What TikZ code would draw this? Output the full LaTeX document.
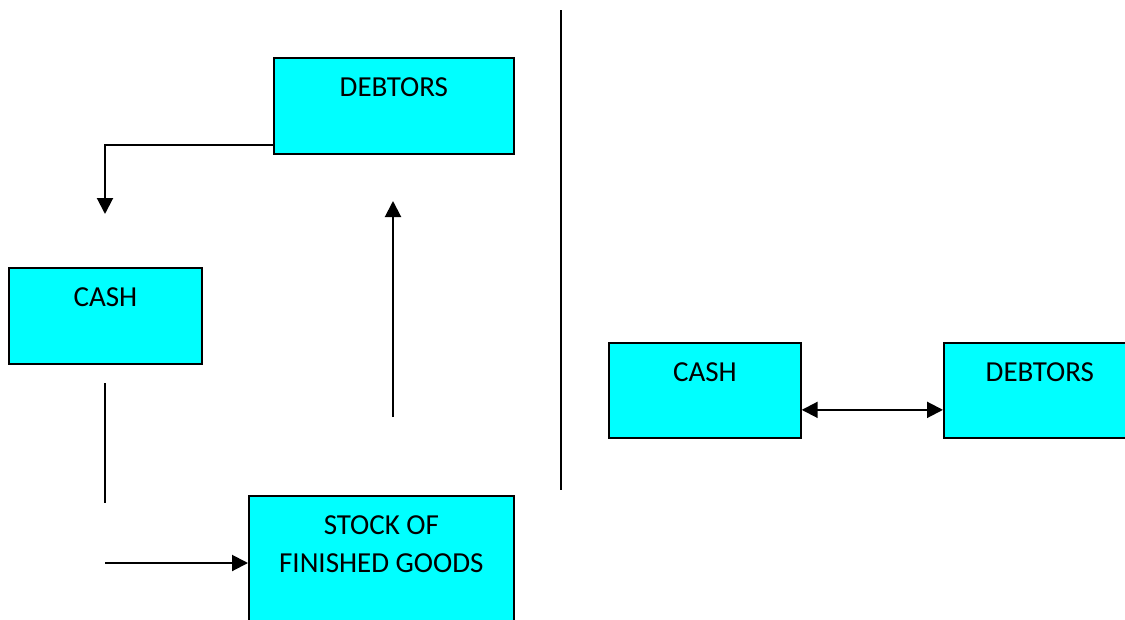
\documentclass[tikz,border=0pt]{standalone}
\usepackage{fontspec}
\setmainfont{Carlito}
\usepackage{xcolor}
\usetikzlibrary{arrows.meta}
\definecolor{boxcyan}{HTML}{00FFFF}

\begin{document}
\begin{tikzpicture}[
  x=0.02cm,
  y=-0.02cm,
  account/.style={
    draw,
    fill=boxcyan,
    line width=1pt,
    anchor=north west,
    minimum height=1.92cm,
    inner sep=0pt,
    label={[account text]north:#1}
  },
  account text/.style={
    anchor=north,
    yshift=-0.40cm,
    inner sep=0pt,
    align=center,
    font=\fontsize{16.5}{21.7}\selectfont
  },
  arrow/.style={
    -{Triangle[length=3.2mm,width=3.2mm]},
    line width=1.15pt
  },
  both ways/.style={
    {Triangle[length=3.2mm,width=3.2mm]}-{Triangle[length=3.2mm,width=3.2mm]},
    line width=1.15pt
  },
  link/.style={
    line width=1.15pt
  }
]

\useasboundingbox (0,0) rectangle (1125,619);
\clip (0,0) rectangle (1125,619);

% Left cycle
\node[account=DEBTORS, minimum width=4.8cm] (debtors) at (273,57) {};

\node[account=CASH, minimum width=3.86cm] (cash) at (8,267) {};

\node[account={STOCK OF\\FINISHED GOODS}, minimum width=5.3cm, minimum height=3cm]
  (stock) at (248,495) {};

% Right pair
\node[account=CASH, minimum width=3.84cm, minimum height=1.9cm] (cashR) at (608,342) {};

\node[account=DEBTORS, minimum width=3.84cm, minimum height=1.9cm] (debtorsR) at (943,342) {};

% Free line ends
\coordinate (cashIn) at (105,214);
\coordinate (cashOut) at (105,383);
\coordinate (stockFeed) at (105,503);
\coordinate (stockIn) at (105,563);
\coordinate (saleFrom) at (393,417);
\coordinate (saleTo) at (393,201);
\coordinate (divTop) at (561,10);
\coordinate (divBot) at (561,490);

% Debtors -> cash
\draw[arrow]
  ([yshift=0.2cm]debtors.south west)
  -| (cashIn);

% Cash -> stock
\draw[link] (cashOut) -- (stockFeed);

\draw[arrow] (stockIn) -- (stockIn -| stock.west);

% Stock -> debtors
\draw[arrow] (saleFrom) -- (saleTo);

% Divider
\draw[link] (divTop) -- (divBot);

% Cash <-> debtors
\draw[both ways]
  ([yshift=-0.39cm]cashR.east)
  -- ([yshift=-0.39cm]debtorsR.west);

\end{tikzpicture}
\end{document}
